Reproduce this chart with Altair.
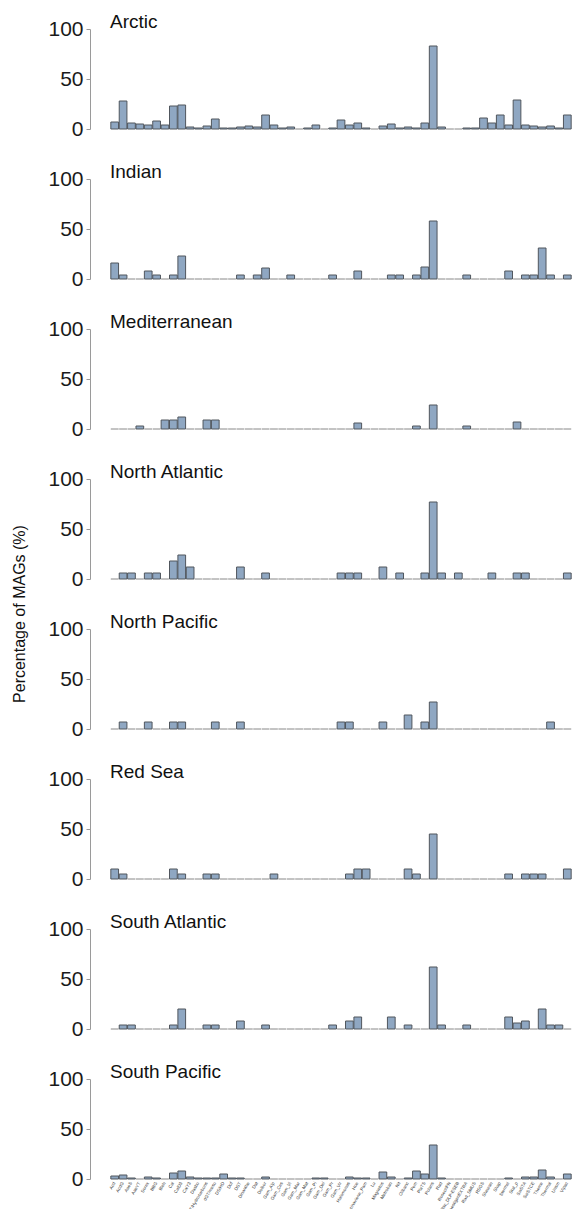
import altair as alt
import pandas as pd

# Taxa on the shared x axis (one bar per taxon)
taxa = [
    "Acd", "AcdG", "AaeS", "AaeYT", "Sorex", "BBG", "Bleh", "Cal", "CalD3", "CalY3",
    "Dasbo", "XCT/Hydrocarbons", "dGT/meso", "DS/HD", "Dof", "DST", "Dinanthe", "Dat",
    "Dolbor", "Gam_Alp", "Gam_Ces", "Gam_Vi", "Gam_Mar", "Gam_Mat", "Gam_Pi", "Gam_Del",
    "Gam_Pr", "Gam_Vir", "Halomonas", "Hoe", "Lacinaviene_Pam", "Lu", "Magnetos",
    "Metroban", "Nit", "Oilbanc", "Pem", "PlaTS", "Polaris", "Rad", "RosecriFN",
    "Rsc_DLP-ESEB", "Res_BinnestigenEXTRA", "Rad_SMUS", "RSGS", "Shewan", "Shap",
    "Stermel", "Stal_p", "SwSTA", "SwSTCE", "Theme", "Thermal", "Unsm", "Vipac",
]

regions = ["Arctic", "Indian", "Mediterranean", "North Atlantic", "North Pacific",
           "Red Sea", "South Atlantic", "South Pacific"]

arctic = [7, 28, 6, 5, 4, 8, 4, 23, 24, 2, 1, 3, 10, 1, 1, 2, 3, 2, 14, 4,
          1, 2, 0, 1, 4, 0, 1, 9, 4, 6, 1, 0, 3, 5, 1, 2, 1, 6, 83, 2,
          0, 0, 1, 1, 11, 6, 14, 4, 29, 4, 3, 2, 3, 1, 14]
indian = [16, 4, 0, 0, 8, 4, 0, 4, 23, 0, 0, 0, 0, 0, 0, 4, 0, 4, 11, 0,
          0, 4, 0, 0, 0, 0, 4, 0, 0, 8, 0, 0, 0, 4, 4, 0, 4, 12, 58, 0,
          0, 0, 4, 0, 0, 0, 0, 8, 0, 4, 4, 31, 4, 0, 4]
mediterranean = [0, 0, 0, 3, 0, 0, 9, 9, 12, 0, 0, 9, 9, 0, 0, 0, 0, 0, 0, 0,
                 0, 0, 0, 0, 0, 0, 0, 0, 0, 6, 0, 0, 0, 0, 0, 0, 3, 0, 24, 0,
                 0, 0, 3, 0, 0, 0, 0, 0, 7, 0, 0, 0, 0, 0, 0]
north_atlantic = [0, 6, 6, 0, 6, 6, 0, 18, 24, 12, 0, 0, 0, 0, 0, 12, 0, 0, 6, 0,
                  0, 0, 0, 0, 0, 0, 0, 6, 6, 6, 0, 0, 12, 0, 6, 0, 0, 6, 77, 6,
                  0, 6, 0, 0, 0, 6, 0, 0, 6, 6, 0, 0, 0, 0, 6]
north_pacific = [0, 7, 0, 0, 7, 0, 0, 7, 7, 0, 0, 0, 7, 0, 0, 7, 0, 0, 0, 0,
                 0, 0, 0, 0, 0, 0, 0, 7, 7, 0, 0, 0, 7, 0, 0, 14, 0, 7, 27, 0,
                 0, 0, 0, 0, 0, 0, 0, 0, 0, 0, 0, 0, 7, 0, 0]
red_sea = [10, 5, 0, 0, 0, 0, 0, 10, 5, 0, 0, 5, 5, 0, 0, 0, 0, 0, 0, 5,
           0, 0, 0, 0, 0, 0, 0, 0, 5, 10, 10, 0, 0, 0, 0, 10, 5, 0, 45, 0,
           0, 0, 0, 0, 0, 0, 0, 5, 0, 5, 5, 5, 0, 0, 10]
south_atlantic = [0, 4, 4, 0, 0, 0, 0, 4, 20, 0, 0, 4, 4, 0, 0, 8, 0, 0, 4, 0,
                  0, 0, 0, 0, 0, 0, 4, 0, 8, 12, 0, 0, 0, 12, 0, 4, 0, 0, 62, 4,
                  0, 0, 4, 0, 0, 0, 0, 12, 6, 8, 0, 20, 4, 4, 0]
south_pacific = [3, 4, 1, 0, 2, 1, 0, 6, 8, 2, 1, 1, 1, 5, 1, 1, 0, 0, 2, 0,
                 0, 0, 0, 0, 1, 1, 0, 0, 2, 1, 1, 0, 7, 2, 0, 1, 8, 5, 34, 1,
                 0, 0, 0, 0, 0, 0, 0, 1, 0, 2, 2, 9, 2, 0, 5]

series = dict(zip(regions, [arctic, indian, mediterranean, north_atlantic,
                            north_pacific, red_sea, south_atlantic, south_pacific]))

records = []
for region in regions:
    for taxon, pct in zip(taxa, series[region]):
        records.append({"region": region, "taxon": taxon, "pct": pct})
df = pd.DataFrame(records)

FONT = "Liberation Sans"
Y_TITLE = "Percentage of MAGs (%)"

bars = alt.Chart().mark_bar(
    fill="#8fa7c2", strokeWidth=1
).encode(
    x=alt.X(
        "taxon:N", sort=taxa, title=None,
        scale=alt.Scale(paddingInner=0.08, paddingOuter=0.1),
        axis=alt.Axis(labelAngle=-60, labelFontSize=4.5, labelColor="#333333",
                      labelFont=FONT, domain=False, ticks=False, labelPadding=3,
                      labelOverlap=False, labelLimit=0, labelAlign="right",
                      labelBaseline="middle"),
    ),
    y=alt.Y(
        "pct:Q", title=None,
        scale=alt.Scale(domain=[0, 100]),
        axis=alt.Axis(values=[0, 50, 100], offset=20, grid=False,
                      labelFontSize=21, labelFont=FONT, labelColor="#1a1a1a",
                      labelPadding=3, tickSize=4, tickColor="#9a9a9a",
                      domainColor="#9a9a9a"),
    ),
    # empty taxa collapse to a faint baseline dash
    stroke=alt.condition(alt.datum.pct == 0, alt.value("#b0b0b0"), alt.value("#50565d")),
)

# region name in the top-left corner of each panel
name = alt.Chart().mark_text(
    align="left", baseline="alphabetic", fontSize=19, font=FONT, color="#111111"
).encode(
    x=alt.value(0), y=alt.value(-1), text="region:N"
).transform_filter(alt.datum.taxon == taxa[0])

# one shared y-axis title, drawn beside the middle of the stack
y_title = alt.Chart().mark_text(
    angle=270, align="center", baseline="middle", fontSize=16, font=FONT,
    color="#111111", text=Y_TITLE
).encode(
    x=alt.value(-90), y=alt.value(-15)
).transform_filter(
    (alt.datum.taxon == taxa[0]) & (alt.datum.region == "North Pacific")
)

chart = alt.layer(bars, name, y_title, data=df).properties(width=462, height=100).facet(
    row=alt.Row("region:N", sort=regions,
                header=alt.Header(labels=False, title=None)),
    spacing=50, bounds="flush",
).configure_view(stroke=None).properties(
    padding={"left": 11, "top": 13, "right": 0, "bottom": 0}
)

chart.save("out.html", embed_options={"renderer": "svg", "actions": False})
